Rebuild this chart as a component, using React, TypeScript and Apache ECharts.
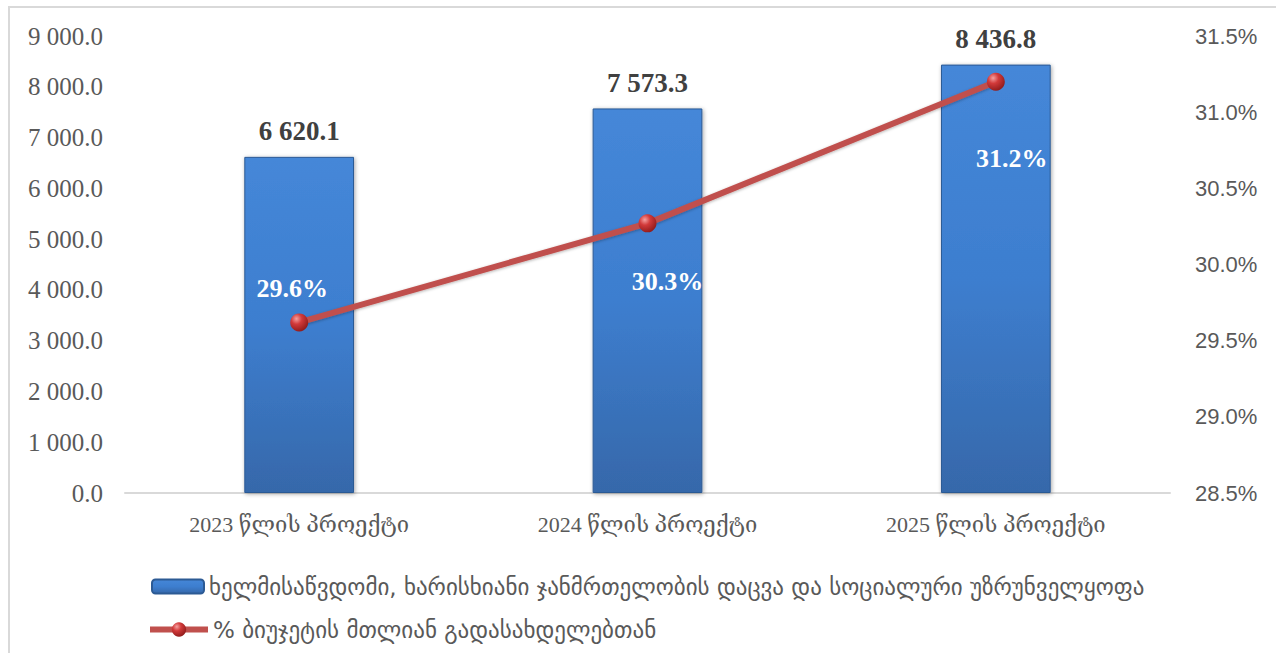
import React, { useEffect, useRef } from "react";
import * as echarts from "echarts";

const categories = ["2023 წლის პროექტი", "2024 წლის პროექტი", "2025 წლის პროექტი"];
const barValues = [6620.1, 7573.3, 8436.8];
const pctValues = [29.62, 30.27, 31.2];
const barName = "ხელმისაწვდომი, ხარისხიანი ჯანმრთელობის დაცვა და სოციალური უზრუნველყოფა";
const lineName = "% ბიუჯეტის მთლიან გადასახდელებთან";
const pctLabelOffsets = [[-7, -34], [20, 58], [16, 77]];

const serif = "'Liberation Serif', 'DejaVu Serif', serif";
const georgian = "'DejaVu Sans', sans-serif";

function fmtThousands(v: number): string {
  const s = v.toFixed(1);
  const [i, d] = s.split(".");
  return i.replace(/\B(?=(\d{3})+(?!\d))/g, " ") + "." + d;
}

export default function App() {
  const ref = useRef<HTMLDivElement>(null);
  useEffect(() => {
    if (!ref.current) return;
    const chart = echarts.init(ref.current, undefined, { renderer: "svg" });
    const barGrad = new echarts.graphic.LinearGradient(0, 0, 0, 1, [
      { offset: 0, color: "#4587D8" },
      { offset: 0.5, color: "#3D7ECF" },
      { offset: 1, color: "#3668AA" },
    ]);
    const ballGrad = new echarts.graphic.RadialGradient(0.35, 0.3, 0.75, [
      { offset: 0, color: "#F4A0A0" },
      { offset: 0.4, color: "#D23A3A" },
      { offset: 1, color: "#8E1A1A" },
    ]);
    chart.setOption({
      animation: false,
      graphic: [
        {
          type: "rect",
          shape: { x: 9, y: 7, width: 1300, height: 700 },
          style: { fill: "none", stroke: "#D9D9D9", lineWidth: 2 },
          silent: true,
        },
      ],
      grid: { left: 125, right: 106, top: 36, bottom: 160 },
      legend: [
        {
          data: [barName],
          orient: "vertical",
          left: 146,
          top: 570,
          itemWidth: 52,
          itemHeight: 14,
          textStyle: { fontFamily: georgian, fontSize: 23, color: "#595959" },
        },
        {
          data: [lineName],
          orient: "vertical",
          left: 142,
          top: 613,
          itemWidth: 58,
          itemHeight: 18,
          lineStyle: { width: 6 },
          textStyle: { fontFamily: georgian, fontSize: 23, color: "#595959" },
        },
      ],
      xAxis: {
        type: "category",
        data: categories,
        axisLine: { show: true, lineStyle: { color: "#D9D9D9", width: 2 } },
        axisTick: { show: false },
        axisLabel: { fontFamily: serif, fontSize: 22, color: "#595959", margin: 20 },
      },
      yAxis: [
        {
          type: "value",
          min: 0,
          max: 9000,
          interval: 1000,
          splitLine: { show: false },
          axisLine: { show: false },
          axisTick: { show: false },
          axisLabel: {
            fontFamily: serif,
            fontSize: 25,
            color: "#595959",
            margin: 22,
            formatter: (v: number) => fmtThousands(v),
          },
        },
        {
          type: "value",
          min: 28.5,
          max: 31.5,
          interval: 0.5,
          splitLine: { show: false },
          axisLine: { show: false },
          axisTick: { show: false },
          axisLabel: {
            fontFamily: "'Liberation Sans', sans-serif",
            fontSize: 22,
            color: "#595959",
            margin: 25,
            formatter: (v: number) => v.toFixed(1) + "%",
          },
        },
      ],
      series: [
        {
          name: barName,
          type: "bar",
          data: barValues,
          barWidth: "31.5%",
          itemStyle: {
            color: barGrad,
            borderColor: "#2C5A94",
            borderWidth: 1,
            shadowColor: "rgba(0,0,0,0.35)",
            shadowBlur: 4,
            shadowOffsetX: 1,
            shadowOffsetY: 1,
          },
          label: {
            show: true,
            position: "top",
            distance: 12,
            fontFamily: serif,
            fontWeight: "bold",
            fontSize: 27,
            color: "#404040",
            formatter: (p: any) => fmtThousands(p.value),
          },
        },
        {
          name: lineName,
          type: "line",
          yAxisIndex: 1,
          data: pctValues.map((v, i) => ({
            value: v,
            label: { offset: pctLabelOffsets[i] },
          })),
          symbol: "circle",
          symbolSize: 18,
          lineStyle: {
            color: "#C0504D",
            width: 6,
            shadowColor: "rgba(0,0,0,0.3)",
            shadowBlur: 3,
            shadowOffsetY: 1,
          },
          itemStyle: { color: ballGrad, borderWidth: 0 },
          label: {
            show: true,
            position: "inside",
            fontFamily: serif,
            fontWeight: "bold",
            fontSize: 26,
            color: "#FFFFFF",
            formatter: (p: any) => p.value.toFixed(1) + "%",
          },
          z: 5,
        },
      ],
    });
    return () => chart.dispose();
  }, []);
  return (
    <div
      ref={ref}
      style={{ position: "fixed", left: 0, top: 0, width: 1276, height: 653, background: "#fff" }}
    />
  );
}
